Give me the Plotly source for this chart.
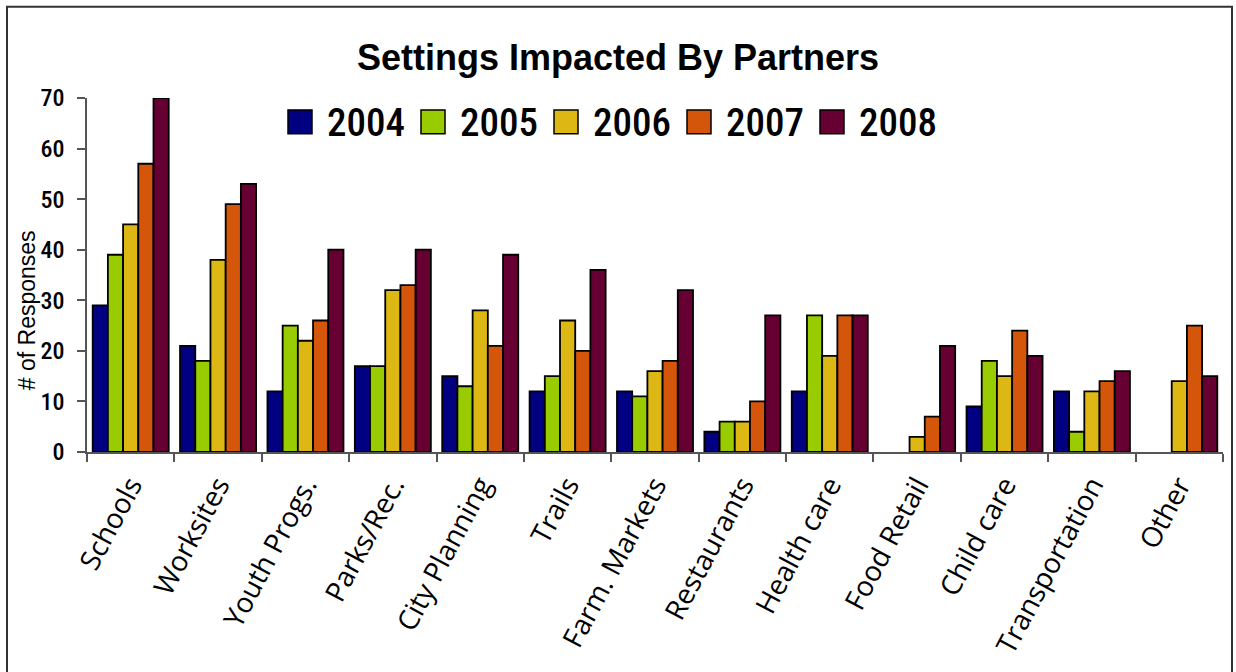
import plotly.graph_objects as go

categories = ["Schools", "Worksites", "Youth Progs.", "Parks/Rec.", "City Planning", "Trails",
              "Farm. Markets", "Restaurants", "Health care", "Food Retail", "Child care",
              "Transportation", "Other"]
years = ["2004", "2005", "2006", "2007", "2008"]
v2004 = [29, 21, 12, 17, 15, 12, 12, 4, 12, None, 9, 12, None]
v2005 = [39, 18, 25, 17, 13, 15, 11, 6, 27, None, 18, 4, None]
v2006 = [45, 38, 22, 32, 28, 26, 16, 6, 19, 3, 15, 12, 14]
v2007 = [57, 49, 26, 33, 21, 20, 18, 10, 27, 7, 24, 14, 25]
v2008 = [70, 53, 40, 40, 39, 36, 32, 27, 27, 21, 19, 16, 15]
yticks = [0, 10, 20, 30, 40, 50, 60, 70]

series = [v2004, v2005, v2006, v2007, v2008]
colors = ["#000080", "#99CC00", "#DDB815", "#D3560A", "#660033"]

W, H = 1236, 672
L, R, T, B = 87, 13, 98, 217
PW, PH = W - L - R, H - T - B

def px(x):
    return (x - L) / PW

def py(y):
    return (H - B - y) / PH

COND = "Roboto Condensed, Liberation Sans, sans-serif"
ARIAL = "Liberation Sans, Arial, sans-serif"

fig = go.Figure()
for name, vals, col in zip(years, series, colors):
    fig.add_trace(go.Bar(x=categories, y=vals, name=name, marker_color=col,
                         marker_line_color="#000000", marker_line_width=1.8,
                         showlegend=False))

shapes = [dict(type="rect", xref="paper", yref="paper",
               x0=px(7), x1=px(1232), y0=py(700), y1=py(6),
               line=dict(color="#333333", width=2), fillcolor="rgba(0,0,0,0)", layer="below")]
annotations = []
x0 = 288
for i, (name, col) in enumerate(zip(years, colors)):
    sx = x0 + i * 133
    shapes.append(dict(type="rect", xref="paper", yref="paper",
                       x0=px(sx), x1=px(sx + 24), y0=py(134), y1=py(110),
                       line=dict(color="#000000", width=1.5), fillcolor=col))
    annotations.append(dict(text=name, xref="paper", yref="paper", x=px(sx + 37), y=py(123),
                            xanchor="left", yanchor="middle", showarrow=False,
                            font=dict(family=COND, size=39, color="#000000", weight=500)))

annotations.append(dict(text="# of Responses", xref="paper", yref="paper", x=px(27), y=py(312),
                        xanchor="center", yanchor="middle", textangle=-90, showarrow=False,
                        font=dict(family=ARIAL, size=23, color="#000000")))

fig.update_layout(
    width=W, height=H,
    margin=dict(l=L, r=R, t=T, b=B),
    paper_bgcolor="white", plot_bgcolor="white",
    barmode="group", bargap=0.13, bargroupgap=0,
    title=dict(text="<b>Settings Impacted By Partners</b>", x=0.5, xref="container",
               y=1 - 57 / H, yref="container", yanchor="middle", xanchor="center",
               font=dict(family=ARIAL, size=36, color="#000000")),
    shapes=shapes, annotations=annotations,
    xaxis=dict(showline=True, linecolor="#555555", linewidth=1.5, ticks="outside",
               tickson="boundaries", ticklen=8, tickcolor="#555555", tickwidth=1.5,
               tickangle=-62, ticklabelstandoff=4,
               tickfont=dict(family="Open Sans, DejaVu Sans, sans-serif", size=28, color="#000000"),
               showgrid=False),
    yaxis=dict(range=[0, 70], tickvals=yticks, showline=True, linecolor="#555555", linewidth=1.5,
               ticks="outside", ticklen=8, tickcolor="#555555", tickwidth=1.5, ticklabelstandoff=8,
               tickfont=dict(family=COND, size=24, color="#000000", weight=500),
               showgrid=False, zeroline=False),
)

fig.write_html("out.html", config={"displayModeBar": False},
               post_script="document.body.style.margin='0';")
